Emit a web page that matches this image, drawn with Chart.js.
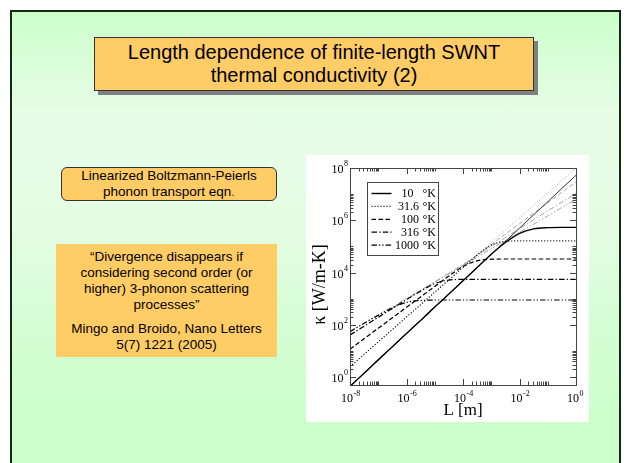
<!DOCTYPE html>
<html>
<head>
<meta charset="utf-8">
<script src="https://cdn.jsdelivr.net/npm/chart.js@4.4.1/dist/chart.umd.min.js"></script>
<style>
    html { overflow: hidden; }
    body {
        margin: 0;
        width: 624px;
        height: 463px;
        overflow: hidden;
        position: relative;
        background: #fff;
        font-family: "Liberation Sans", Arial, sans-serif;
    }
    #diapositiva {
        position: absolute;
        left: 10px;
        top: 10px;
        width: 611px;
        height: 453px;
        box-sizing: border-box;
        border: 2px solid #142914;
        border-bottom: none;
        background: linear-gradient(180deg, #ccffcc 0%, #e8fde8 24%, #e4fce4 48%, #d4fed4 70%, #ccffcc 90%, #ccffcc 100%);
    }
    .caja {
        position: absolute;
        box-sizing: border-box;
        background: #ffcc66;
        color: #000;
        text-align: center;
    }
    #titulo {
        left: 94px;
        top: 37px;
        width: 440px;
        height: 54px;
        border: 1px solid #333;
        box-shadow: 4px 4px 0 #808080;
        font-size: 20px;
        line-height: 23px;
        padding-top: 3px;
    }
    #metodo {
        left: 61px;
        top: 167px;
        width: 216px;
        height: 34px;
        border: 1px solid #333;
        border-radius: 6px;
        font-size: 13.5px;
        line-height: 16px;
    }
    #cita {
        left: 56px;
        top: 244px;
        width: 221px;
        height: 113px;
        font-size: 13.5px;
        line-height: 16px;
        padding-top: 5px;
    }
    #cita p { margin: 0; }
    #cita p + p { margin-top: 8px; }
    #contenedor {
        position: absolute;
        left: 306px;
        top: 155px;
        width: 283px;
        height: 267px;
        background: #fff;
    }
</style>
</head>
<body>
<div id="diapositiva"></div>

<div id="titulo" class="caja">Length dependence of finite-length SWNT<br>thermal conductivity (2)</div>

<div id="metodo" class="caja">Linearized Boltzmann-Peierls<br>phonon transport eqn<span style="color:#e00000">.</span></div>

<div id="cita" class="caja">
    <p>“Divergence disappears if<br>considering second order (or<br>higher) 3-phonon scattering<br>processes”</p>
    <p>Mingo and Broido, Nano Letters<br>5(7) 1221 (2005)</p>
</div>

<div id="contenedor"><canvas id="grafico" width="283" height="267"></canvas></div>

<script>
// L [m], half decades from 1e-8 to 1
const L = [1e-8, 3.16e-8, 1e-7, 3.16e-7, 1e-6, 3.16e-6, 1e-5, 3.16e-5, 1e-4,
           3.16e-4, 1e-3, 3.16e-3, 1e-2, 3.16e-2, 0.1, 0.316, 1];

const temperaturas = ["10", "31.6", "100", "316", "1000"];

// kappa [W/m-K] with saturation (black curves)
const k10 = [0.447, 1.41, 4.57, 14.5, 46.8, 148, 479, 1510, 4900, 15500, 50100, 141000, 316000, 468000, 525000, 537000, 537000];
const k31 = [2.51, 7.41, 22.4, 66.1, 200, 589, 1780, 5250, 15800, 46800, 112000, 155000, 162000, 162000, 162000, 162000, 162000];
const k100 = [11.7, 29.5, 74.1, 186, 468, 1170, 2950, 7410, 17000, 28200, 32400, 33100, 33100, 33100, 33100, 33100, 33100];
const k316 = [40.7, 89.1, 195, 427, 933, 1950, 3800, 5130, 5500, 5500, 5500, 5500, 5500, 5500, 5500, 5500, 5500];
const k1000 = [55, 115, 234, 447, 724, 851, 891, 891, 891, 891, 891, 891, 891, 891, 891, 891, 891];

// kappa without second order scattering (thin diverging lines)
const k10Div = [0.447, 1.41, 4.57, 14.5, 46.8, 148, 479, 1510, 4900, 15500, 50100, 158000, 501000, 1.62e6, 5.13e6, 1.66e7, 5.25e7];
const k31Div = [2.51, 7.41, 22.4, 66.1, 200, 589, 1780, 5250, 15800, 46800, 138000, 417000, 1.23e6, 3.72e6, 1.1e7, 3.31e7, 9.77e7];
const k100Div = [11.7, 29.5, 74.1, 186, 468, 1170, 2950, 7410, 18600, 46800, 117000, 295000, 741000, 1.86e6, 4.68e6, 1.17e7, 2.95e7];
const k316Div = [40.7, 89.1, 195, 427, 933, 2040, 4370, 9550, 20900, 45700, 100000, 219000, 479000, 1.05e6, 2.29e6, 4.9e6, 1.07e7];
const k1000Div = [55, 115, 234, 490, 1020, 2090, 4370, 9120, 18600, 38900, 81300, 166000, 347000, 708000, 1.48e6, 3.09e6, 6.31e6];

const expX = [-8, -6, -4, -2, 0];
const expY = [0, 2, 4, 6, 8];

const trazos = [[], [1, 2], [4.5, 2.5], [5.5, 2.2, 1.3, 2.2], [5.5, 2, 1.3, 2, 1.3, 2]];

const puntos = (valores) => valores.map((v, i) => ({ x: L[i], y: v }));

const saturadas = [k10, k31, k100, k316, k1000];
const divergentes = [k10Div, k31Div, k100Div, k316Div, k1000Div];

const datasets = [];
saturadas.forEach((serie, i) => {
    datasets.push({
        label: temperaturas[i] + " °K",
        data: puntos(serie),
        borderColor: "#000",
        borderWidth: i === 0 ? 1.4 : 1.2,
        borderDash: trazos[i],
        pointRadius: 0,
        cubicInterpolationMode: "monotone",
        order: 0,
        enLeyenda: true
    });
});
divergentes.forEach((serie, i) => {
    datasets.push({
        label: temperaturas[i] + " °K (sin saturar)",
        data: puntos(serie),
        borderColor: i === 0 ? "#333" : "#8f8f8f",
        borderWidth: i === 0 ? 1 : 0.8,
        borderDash: trazos[i],
        pointRadius: 0,
        order: 1
    });
});

const serif = '"Liberation Serif", "Times New Roman", serif';

// frame, inward ticks, 10^n labels, axis titles and legend box
const decoracion = {
    id: "decoracion",
    afterDatasetsDraw(chart) {
        const { ctx, chartArea: a, scales: { x, y } } = chart;
        const r = (v) => Math.round(v) + 0.5;
        ctx.save();
        ctx.strokeStyle = "#444";
        ctx.lineWidth = 1;
        ctx.setLineDash([]);
        ctx.strokeRect(r(a.left), r(a.top), Math.round(a.right - a.left), Math.round(a.bottom - a.top));

        const linea = (x1, y1, x2, y2) => {
            ctx.beginPath();
            ctx.moveTo(x1, y1);
            ctx.lineTo(x2, y2);
            ctx.stroke();
        };

        expX.forEach((e, n) => {
            const mayor = Math.pow(10, e);
            const px = r(x.getPixelForValue(mayor));
            linea(px, a.bottom, px, a.bottom - 6);
            linea(px, a.top, px, a.top + 6);
            if (n < expX.length - 1) {
                for (let m = 2; m <= 10; m++) {
                    const pm = r(x.getPixelForValue(m * mayor));
                    linea(pm, a.bottom, pm, a.bottom - 3.5);
                    linea(pm, a.top, pm, a.top + 3.5);
                }
            }
        });
        expY.forEach((e, n) => {
            const mayor = Math.pow(10, e);
            const py = r(y.getPixelForValue(mayor));
            linea(a.left, py, a.left + 6, py);
            linea(a.right, py, a.right - 6, py);
            if (n < expY.length - 1) {
                for (let m = 2; m <= 10; m++) {
                    const pm = r(y.getPixelForValue(m * mayor));
                    linea(a.left, pm, a.left + 3.5, pm);
                    linea(a.right, pm, a.right - 3.5, pm);
                }
            }
        });

        // tick labels
        ctx.fillStyle = "#000";
        ctx.textBaseline = "alphabetic";
        ctx.textAlign = "left";
        const base = "12px " + serif;
        const sup = "8px " + serif;
        expX.forEach((e) => {
            const px = x.getPixelForValue(Math.pow(10, e));
            ctx.font = base;
            const wb = ctx.measureText("10").width;
            ctx.fillText("10", px + 3 - wb, a.bottom + 17);
            ctx.font = sup;
            ctx.fillText(String(e), px + 3.5, a.bottom + 11);
        });
        expY.forEach((e) => {
            const py = y.getPixelForValue(Math.pow(10, e));
            ctx.font = sup;
            const we = ctx.measureText(String(e)).width;
            ctx.fillText(String(e), a.left - 2 - we, py - 2);
            ctx.font = base;
            const wb = ctx.measureText("10").width;
            ctx.fillText("10", a.left - 2.5 - we - wb, py + 5);
        });

        // axis titles
        ctx.textAlign = "center";
        ctx.textBaseline = "middle";
        ctx.font = "17px " + serif;
        ctx.fillText("L [m]", (a.left + a.right) / 2, a.bottom + 26);
        ctx.save();
        ctx.translate(a.left - 30, (a.top + a.bottom) / 2 + 8);
        ctx.rotate(-Math.PI / 2);
        ctx.font = "18px " + serif;
        ctx.fillText("κ [W/m-K]", 0, 0);
        ctx.restore();

        // legend
        const bx = Math.round(a.left + 17) + 0.5;
        const by = Math.round(a.top + 14) + 0.5;
        ctx.fillStyle = "#fff";
        ctx.fillRect(bx, by, 71, 73);
        ctx.strokeStyle = "#444";
        ctx.strokeRect(bx, by, 71, 73);
        ctx.fillStyle = "#000";
        ctx.textAlign = "left";
        ctx.font = "12px " + serif;
        chart.data.datasets.filter(d => d.enLeyenda).forEach((d, i) => {
            const fy = by + 11 + i * 12.9;
            ctx.strokeStyle = "#000";
            ctx.lineWidth = d.borderWidth;
            ctx.setLineDash(d.borderDash);
            linea(bx + 4, fy, bx + 24, fy);
            ctx.setLineDash([]);
            const t = temperaturas[i];
            const wt = ctx.measureText(t).width;
            ctx.fillText(t, Math.min(bx + 34, bx + 51.5 - wt), fy + 0.5);
            ctx.fillText("°K", bx + 55, fy + 0.5);
        });
        ctx.restore();
    }
};

const ctx = document.getElementById("grafico").getContext("2d");
const grafico = new Chart(ctx, {
    type: "line",
    data: { datasets: datasets },
    options: {
        responsive: false,
        animation: false,
        devicePixelRatio: 1,
        layout: { padding: { left: 44, right: 13, top: 13, bottom: 37 } },
        plugins: {
            legend: { display: false },
            tooltip: { enabled: false }
        },
        scales: {
            x: {
                type: "logarithmic",
                min: 1e-8,
                max: 1,
                grid: { display: false, drawTicks: false, tickLength: 0 },
                border: { display: false },
                ticks: { display: false, padding: 0 }
            },
            y: {
                type: "logarithmic",
                min: 0.5,
                max: 1e8,
                grid: { display: false, drawTicks: false, tickLength: 0 },
                border: { display: false },
                ticks: { display: false, padding: 0 }
            }
        }
    },
    plugins: [decoracion]
});
</script>
</body>
</html>
